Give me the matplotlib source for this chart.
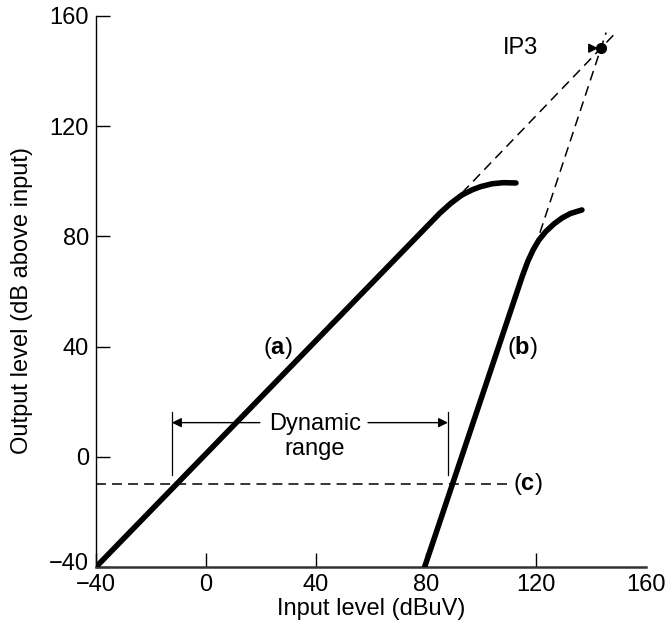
import matplotlib.pyplot as plt
from matplotlib.transforms import offset_copy

plt.rcParams['font.family'] = ['Liberation Sans', 'DejaVu Sans']
plt.rcParams['mathtext.fontset'] = 'custom'
plt.rcParams['mathtext.rm'] = 'Liberation Sans'
plt.rcParams['mathtext.bf'] = 'Liberation Sans:bold'

# Curve (a): linear amplifier response, bending into compression
curve_a_x = [-40, 85, 89, 93, 97, 100, 104, 108, 112.7]
curve_a_y = [-40, 88.4, 92, 95, 97, 98.1, 99.1, 99.5, 99.4]

# Curve (b): third-order product, slope ~3
curve_b_x = [79.5, 115, 117, 119, 121, 123.5, 126.5, 129.5, 132.5, 136.7]
curve_b_y = [-40, 65.5, 70.9, 75.2, 78.6, 81.7, 84.5, 86.7, 88.3, 89.6]

# Noise floor (c)
noise_x = [-40, 110.5]
noise_y = [-10, -10]

# Extrapolations to the intercept point
ip3 = (143.6, 148.3)
extrap_a_x = [93.1, 148.4]
extrap_a_y = [95.8, 153.3]
extrap_b_x = [119.6, 145.5]
extrap_b_y = [75.8, 154.0]

# Dynamic range markers
dr_left, dr_right = -12.4, 88
dr_bottom, dr_top = -6.6, 16.3
dr_arrow_y = 12.4

x_ticks = [-40, 0, 40, 80, 120, 160]
y_ticks = [-40, 0, 40, 80, 120, 160]

fs = 17

fig = plt.figure(figsize=(6.66, 6.30), dpi=100)
ax = fig.add_axes([96 / 666, 63 / 630, 550 / 666, 551 / 630])
ax.set_xlim(-40, 160)
ax.set_ylim(-40, 160)

ax.plot(curve_a_x, curve_a_y, color='black', lw=4, solid_joinstyle='round',
        solid_capstyle='round', zorder=3)
ax.plot(curve_b_x, curve_b_y, color='black', lw=4, solid_joinstyle='round',
        solid_capstyle='round', zorder=3)

dash = dict(color='black', lw=1.1, dashes=(6.5, 4))
ax.plot(noise_x, noise_y, **dash)
ax.plot(extrap_a_x, extrap_a_y, **dash)
ax.plot(extrap_b_x, extrap_b_y, **dash)

# IP3 point and label
ax.plot(*ip3, marker='o', ms=7, color='black', zorder=4)
ax.annotate('', xy=ip3, xytext=(ip3[0] - 4.5, ip3[1]),
            arrowprops=dict(arrowstyle='-|>', color='black', lw=1,
                            mutation_scale=14, shrinkA=0, shrinkB=2))
ax.text(114.2, ip3[1], 'IP3', ha='center', va='center', fontsize=fs)

# Curve labels
ax.text(26, 39.5, r'($\mathbf{a}$)', ha='center', va='center', fontsize=fs)
ax.text(115, 39.5, r'($\mathbf{b}$)', ha='center', va='center', fontsize=fs)
ax.text(111.5, -10, r'($\mathbf{c}$)', ha='left', va='center', fontsize=fs)

# Dynamic range
ax.plot([dr_left, dr_left], [dr_bottom, dr_top], color='black', lw=0.9)
ax.plot([dr_right, dr_right], [dr_bottom, dr_top], color='black', lw=0.9)
arrow = dict(arrowstyle='-|>', color='black', lw=1, mutation_scale=14,
             shrinkA=0, shrinkB=0)
ax.annotate('', xy=(dr_left, dr_arrow_y), xytext=(19.6, dr_arrow_y), arrowprops=arrow)
ax.annotate('', xy=(dr_right, dr_arrow_y), xytext=(58.9, dr_arrow_y), arrowprops=arrow)
ax.text(39.6, 9.7, 'Dynamic', ha='center', va='baseline', fontsize=fs)
ax.text(39.6, 0.65, 'range', ha='center', va='baseline', fontsize=fs)

# Axes styling
for side in ['top', 'right']:
    ax.spines[side].set_visible(False)
ax.spines['left'].set_linewidth(1.0)
ax.spines['bottom'].set_linewidth(1.8)
ax.spines['bottom'].set_color('#333333')

ax.set_xticks(x_ticks)
ax.set_yticks(y_ticks)
ax.tick_params(axis='both', direction='in', length=10, width=1, labelsize=fs,
               color='black')
ax.tick_params(axis='x', pad=5)
ax.tick_params(axis='y', pad=5)
ax.xaxis.get_major_ticks()[-1].tick1line.set_visible(False)
# nudge the lowest y label up a little so it clears the x label below
low = ax.yaxis.get_major_ticks()[0].label1
low.set_transform(offset_copy(low.get_transform(), fig=fig, y=5, units='dots'))

ax.set_xlabel('Input level (dBuV)', fontsize=fs)
ax.set_ylabel('Output level (dB above input)', fontsize=fs)
ax.xaxis.set_label_coords(0.5, -(609 - 567) / 551)
ax.xaxis.label.set_va('center')
ax.yaxis.set_label_coords((22 - 96) / 550, (567 - 301) / 551)
ax.yaxis.label.set_va('center')

fig.savefig('out.png', dpi=100)
